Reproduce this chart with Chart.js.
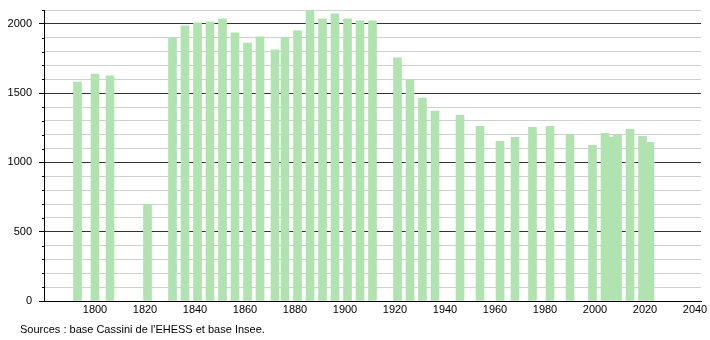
<!DOCTYPE html>
<html>
<head>
<meta charset="utf-8">
<script src="https://cdn.jsdelivr.net/npm/chart.js@4"></script>
<style>
  body { margin: 0; background: #fff; }
  #wrap { position: relative; width: 710px; height: 340px; }
  #sources { position: absolute; left: 20px; top: 323px; font: 11px "Liberation Sans", Arial, sans-serif; color: #000; }
</style>
</head>
<body>
<div id="wrap">
  <canvas id="popChart" width="710" height="340"></canvas>
  <div id="sources">Sources : base Cassini de l'EHESS et base Insee.</div>
</div>
<script>
// Census years and population counts
const years = [1793, 1800, 1806, 1821, 1831, 1836, 1841, 1846, 1851, 1856, 1861, 1866, 1872, 1876,
  1881, 1886, 1891, 1896, 1901, 1906, 1911, 1921, 1926, 1931, 1936, 1946, 1954, 1962, 1968, 1975,
  1982, 1990, 1999, 2004, 2006, 2009, 2014, 2019, 2022];
const population = [1580, 1638, 1625, 700, 1896, 1986, 2007, 2014, 2036, 1935, 1862, 1906, 1812, 1899,
  1949, 2094, 2036, 2072, 2036, 2022, 2022, 1754, 1594, 1464, 1370, 1341, 1261, 1152, 1181, 1254,
  1261, 1203, 1123, 1210, 1183, 1196, 1239, 1188, 1145];

// Axis tick labels
const xTicks = [1800, 1820, 1840, 1860, 1880, 1900, 1920, 1940, 1960, 1980, 2000, 2020, 2040];
const yLabels = [0, 500, 1000, 1500, 2000];

const font = { family: '"Liberation Sans", Arial, sans-serif', size: 11 };

// Short ticks on the y axis for every 100 that has no label
const minorTicks = {
  id: 'minorTicks',
  afterDraw(chart) {
    const y = chart.scales.y;
    const ctx = chart.ctx;
    ctx.save();
    ctx.strokeStyle = '#000';
    ctx.lineWidth = 1;
    y.ticks.forEach(t => {
      if (yLabels.includes(t.value)) return;
      const py = Math.round(y.getPixelForValue(t.value)) + 0.5;
      ctx.beginPath();
      ctx.moveTo(y.right - 2, py);
      ctx.lineTo(y.right, py);
      ctx.stroke();
    });
    ctx.restore();
  }
};

new Chart(document.getElementById('popChart'), {
  type: 'bar',
  data: {
    datasets: [{
      data: years.map((yr, i) => ({ x: yr, y: population[i] })),
      backgroundColor: '#b0e3b0',
      barThickness: 8
    }]
  },
  options: {
    responsive: false,
    animation: false,
    layout: { padding: { left: 0, right: 9, top: 10, bottom: 0 } },
    plugins: { legend: { display: false }, tooltip: { enabled: false } },
    scales: {
      x: {
        type: 'linear',
        offset: false,
        min: 1779.6,
        max: 2042.4,
        afterFit(scale) { scale.height = 39; scale.paddingLeft = 0; scale.paddingRight = 0; },
        afterBuildTicks(scale) { scale.ticks = xTicks.map(v => ({ value: v })); },
        grid: { display: false, drawTicks: false, offset: false },
        border: { display: true, color: '#000', width: 1 },
        ticks: { color: '#000', font, padding: 2, maxRotation: 0, autoSkip: false, callback: v => String(v) }
      },
      y: {
        min: 0,
        max: 2100,
        afterFit(scale) { scale.width = 44; scale.paddingTop = 0; scale.paddingBottom = 0; },
        border: { display: true, color: '#000', width: 1 },
        grid: {
          color: ctx => yLabels.includes(ctx.tick.value) ? '#333' : '#d0d0d0',
          tickColor: ctx => yLabels.includes(ctx.tick.value) ? '#000' : 'rgba(0,0,0,0)',
          tickLength: 5
        },
        ticks: {
          stepSize: 100,
          color: '#000',
          font,
          padding: 7,
          autoSkip: false,
          callback: v => yLabels.includes(v) ? String(v) : ''
        }
      }
    }
  },
  plugins: [minorTicks]
});
</script>
</body>
</html>
